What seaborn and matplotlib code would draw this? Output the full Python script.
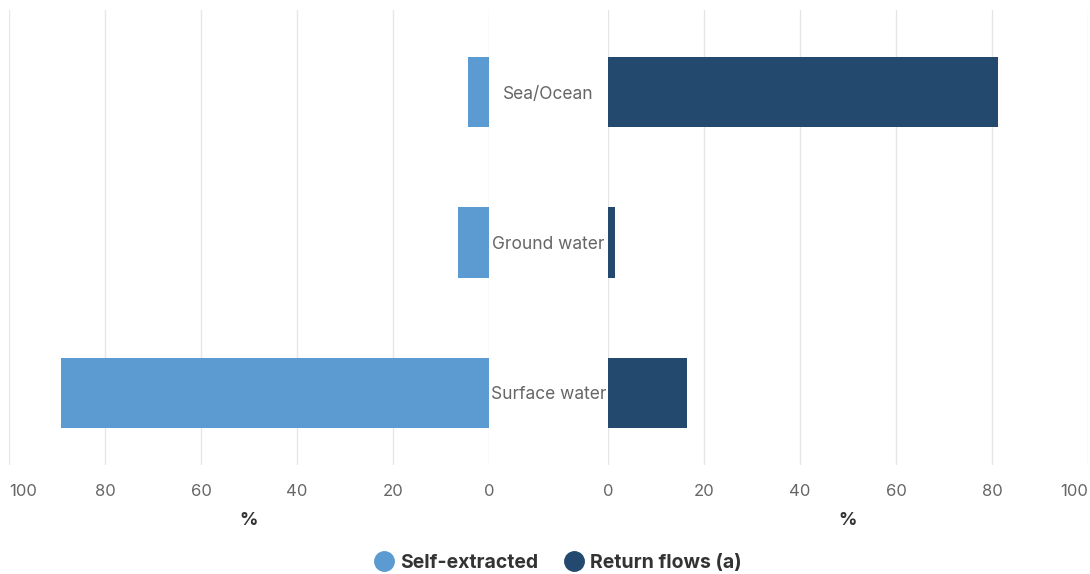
import matplotlib

matplotlib.use("Agg")
import matplotlib.pyplot as plt
import pandas as pd
import seaborn as sns
from matplotlib.lines import Line2D

COLOR_SELF = "#5b9bd1"
COLOR_RETURN = "#234a6e"
COLOR_TEXT = "#666666"
COLOR_DARK = "#333333"
COLOR_GRID = "#e6e6e6"

categories = ["Sea/Ocean", "Ground water", "Surface water"]
self_extracted = [4.4, 6.5, 89.2]
return_flows = [81.2, 1.5, 16.5]
x_ticks = [0, 20, 40, 60, 80, 100]

df = pd.DataFrame(
    {"source": categories, "self": self_extracted, "return": return_flows}
)

sns.set_theme(style="white")
plt.rcParams["font.family"] = ["Inter", "DejaVu Sans"]

W, H = 1090, 574
fig = plt.figure(figsize=(W / 100, H / 100), dpi=100)
bottom = 1 - 465 / H
height = (465 - 10) / H
ax_l = fig.add_axes([9 / W, bottom, 480 / W, height])
ax_r = fig.add_axes([608 / W, bottom, 480 / W, height])

sns.barplot(data=df, x="self", y="source", ax=ax_l, color=COLOR_SELF,
            width=0.467, saturation=1, orient="h", linewidth=0)
sns.barplot(data=df, x="return", y="source", ax=ax_r, color=COLOR_RETURN,
            width=0.467, saturation=1, orient="h", linewidth=0)

for ax in (ax_l, ax_r):
    ax.set_ylim(2 + 72 / 150, -82 / 150)
    ax.set_xticks(x_ticks)
    ax.set_xticklabels([str(t) for t in x_ticks])
    ax.xaxis.grid(True, color=COLOR_GRID, linewidth=1)
    ax.set_axisbelow(True)
    for s in ax.spines.values():
        s.set_visible(False)
    ax.tick_params(axis="x", length=0, pad=14, labelsize=12, labelcolor=COLOR_TEXT)
    ax.set_xlabel("%", fontsize=13, fontweight="bold", color=COLOR_DARK, labelpad=9)
    ax.set_ylabel("")

ax_l.set_xlim(100, 0)
ax_r.set_xlim(0, 100)
ax_l.get_xticklabels()[-1].set_ha("left")
ax_r.get_xticklabels()[-1].set_ha("right")

ax_l.set_yticks([])
ax_r.set_yticks(range(len(categories)))
ax_r.set_yticklabels(categories, ha="center")
ax_r.tick_params(axis="y", length=0, pad=43, labelsize=12.5, labelcolor=COLOR_TEXT)

handles = [
    Line2D([], [], marker="o", ls="", markersize=14, color=COLOR_SELF, label="Self-extracted"),
    Line2D([], [], marker="o", ls="", markersize=14, color=COLOR_RETURN, label="Return flows (a)"),
]
leg = fig.legend(handles=handles, loc="center", ncol=2, frameon=False,
                 bbox_to_anchor=(558 / W, 1 - 563 / H), handlelength=1.0,
                 handletextpad=0.35, columnspacing=1.3,
                 prop={"size": 14, "weight": "bold"})
for t in leg.get_texts():
    t.set_color(COLOR_DARK)

fig.savefig("out.png", dpi=100)
